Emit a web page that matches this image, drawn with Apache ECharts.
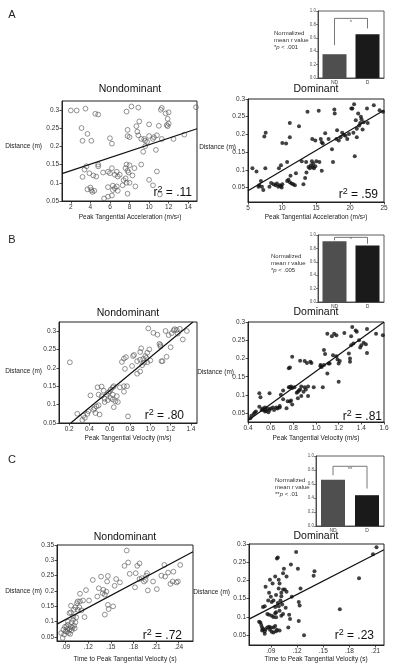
<!DOCTYPE html>
<html><head><meta charset="utf-8">
<script src="https://cdn.jsdelivr.net/npm/echarts@6/dist/echarts.min.js"></script>
<style>html,body{margin:0;padding:0;background:#fff}#c{width:400px;height:666px}</style>
</head><body><div id="c"></div>
<script>
// ---------- DATA ----------
const aNdPoints = [[2.0,0.298],[2.6,0.298],[3.5,0.303],[4.5,0.289],[4.8,0.287],
[3.1,0.25],[3.7,0.234],[3.2,0.215],[4.1,0.215],
[3.4,0.136],[3.6,0.145],[3.2,0.116],[3.9,0.126],[4.3,0.12],[4.6,0.117],[4.8,0.145],[4.8,0.15],
[3.7,0.082],[4.0,0.087],[4.2,0.075],[4.1,0.08],[4.4,0.078],
[5.3,0.128],[5.8,0.13],[6.2,0.14],[6.0,0.126],[6.5,0.122],[6.7,0.13],[7.0,0.122],[6.8,0.117],
[5.8,0.088],[6.3,0.092],[6.5,0.085],[6.7,0.09],[6.3,0.08],[6.8,0.078],[6.2,0.065],[5.8,0.062],[5.4,0.057],[7.8,0.07],
[6.0,0.222],[6.2,0.207],[7.7,0.295],[8.2,0.309],[8.9,0.306],[7.8,0.245],[7.8,0.228],[8.0,0.225],
[7.4,0.107],[7.6,0.112],[7.7,0.1],[7.3,0.093],[8.0,0.1],[8.6,0.09],[7.8,0.133],[8.3,0.12],[7.6,0.14],[7.7,0.15],[8.0,0.148],[8.5,0.14],[7.9,0.128],
[8.7,0.255],[8.8,0.24],[9.0,0.268],[8.9,0.23],[9.2,0.22],[9.5,0.22],[9.6,0.215],[9.6,0.2],[9.4,0.185],[9.2,0.15],
[10.0,0.26],[10.0,0.228],[9.8,0.212],[10.4,0.22],[10.5,0.225],[10.7,0.19],[10.8,0.23],[11.0,0.256],
[11.2,0.3],[11.3,0.305],[11.7,0.29],[11.9,0.275],[12.0,0.293],[12.0,0.262],[11.9,0.255],[11.8,0.258],
[11.3,0.22],[12.5,0.22],[13.6,0.232],[14.8,0.307],[10.0,0.108],[10.4,0.093],[10.8,0.131],[11.1,0.068]];

const aDPoints = [[5.65,0.104],[6.25,0.095],[6.9,0.068],[6.65,0.056],[7.05,0.052],[6.55,0.052],[7.25,0.043],[7.4,0.194],[7.6,0.205],[7.55,0.104],
[8.15,0.052],[8.4,0.063],[8.75,0.059],[9.05,0.056],[9.25,0.061],[9.45,0.052],[9.65,0.056],[9.85,0.054],[10.05,0.059],[9.95,0.05],
[9.55,0.104],[9.85,0.113],[10.05,0.176],[10.6,0.174],[10.75,0.122],[10.75,0.068],[10.95,0.072],[11.15,0.065],[11.25,0.083],[11.4,0.061],
[11.65,0.059],[11.9,0.056],[12.05,0.09],[11.15,0.232],[11.15,0.192],[12.5,0.223],[12.9,0.124],[13.15,0.059],[13.4,0.077],[13.6,0.092],
[13.55,0.122],[13.75,0.264],[13.9,0.108],[14.1,0.104],[14.25,0.113],[14.4,0.124],[14.5,0.108],[14.6,0.117],[14.7,0.104],[14.9,0.11],
[15.05,0.124],[14.45,0.187],[14.9,0.183],[15.4,0.267],[15.5,0.122],[15.7,0.187],[15.85,0.178],[15.85,0.097],[16.0,0.174],[16.35,0.203],
[16.85,0.187],[17.35,0.158],[17.5,0.122],[17.7,0.27],[17.75,0.259],[18.0,0.187],[18.1,0.212],[18.35,0.183],[18.6,0.192],[18.85,0.205],
[19.1,0.198],[19.35,0.196],[19.6,0.187],[19.85,0.201],[20.2,0.273],[20.35,0.273],[20.6,0.285],[20.7,0.138],[20.85,0.24],[21.0,0.216],
[21.0,0.192],[21.2,0.259],[21.35,0.225],[21.5,0.232],[21.6,0.25],[21.7,0.243],[21.85,0.214],[22.0,0.234],[22.5,0.273],[22.6,0.232],
[23.5,0.282],[24.35,0.268],[24.85,0.264],[20.5,0.205]];

const bNdPoints = [[0.207,0.215],[0.28,0.075],[0.34,0.07],[0.38,0.075],[0.355,0.064],[0.33,0.058],[0.39,0.082],[0.41,0.125],[0.44,0.086],[0.45,0.09],
[0.47,0.095],[0.49,0.098],[0.46,0.077],[0.5,0.073],[0.48,0.147],[0.52,0.149],[0.49,0.127],[0.52,0.123],[0.54,0.138],[0.55,0.107],
[0.55,0.116],[0.57,0.127],[0.585,0.132],[0.58,0.112],[0.6,0.136],[0.61,0.118],[0.61,0.141],[0.63,0.147],[0.63,0.127],[0.63,0.114],
[0.64,0.093],[0.655,0.109],[0.67,0.123],[0.68,0.107],[0.64,0.15],[0.7,0.147],[0.74,0.135],[0.74,0.15],[0.77,0.15],[0.78,0.068],
[0.72,0.216],[0.74,0.225],[0.76,0.229],[0.75,0.197],[0.82,0.205],[0.83,0.232],[0.84,0.235],[0.87,0.218],[0.87,0.184],[0.9,0.222],
[0.9,0.243],[0.91,0.253],[0.9,0.19],[0.92,0.207],[0.93,0.224],[0.94,0.214],[0.95,0.232],[0.96,0.227],[0.97,0.241],[0.99,0.25],
[0.98,0.307],[1.03,0.295],[1.07,0.29],[1.09,0.265],[1.1,0.262],[1.1,0.258],[1.11,0.218],[1.12,0.218],[1.15,0.3],[1.16,0.23],
[1.18,0.289],[1.2,0.256],[1.21,0.294],[1.23,0.302],[1.24,0.305],[1.26,0.303],[1.27,0.293],[1.29,0.306],[1.32,0.277],[1.36,0.3],
[1.0,0.22],[0.97,0.215]];

const bDPoints = [[0.42,0.036],[0.43,0.043],[0.45,0.048],[0.46,0.052],[0.47,0.055],[0.5,0.105],[0.51,0.094],[0.5,0.068],[0.52,0.059],[0.53,0.063],
[0.54,0.059],[0.55,0.055],[0.56,0.057],[0.57,0.063],[0.58,0.053],[0.59,0.059],[0.59,0.105],[0.55,0.066],[0.6,0.063],[0.62,0.066],
[0.63,0.059],[0.65,0.066],[0.66,0.063],[0.68,0.066],[0.68,0.07],[0.69,0.101],[0.71,0.112],[0.71,0.088],[0.74,0.064],[0.75,0.083],
[0.77,0.082],[0.78,0.085],[0.79,0.074],[0.76,0.121],[0.77,0.121],[0.79,0.119],[0.78,0.123],[0.76,0.173],[0.77,0.175],[0.79,0.205],
[0.81,0.121],[0.83,0.106],[0.84,0.109],[0.85,0.112],[0.86,0.115],[0.84,0.091],[0.87,0.097],[0.87,0.123],[0.89,0.109],[0.9,0.121],
[0.91,0.115],[0.93,0.097],[0.93,0.123],[0.86,0.194],[0.9,0.193],[0.92,0.188],[0.95,0.191],[0.96,0.188],[0.98,0.121],[1.04,0.179],
[1.04,0.182],[1.05,0.177],[1.06,0.121],[1.07,0.182],[1.07,0.223],[1.08,0.212],[1.1,0.159],[1.1,0.268],[1.11,0.186],[1.12,0.186],
[1.14,0.261],[1.15,0.209],[1.16,0.268],[1.18,0.264],[1.18,0.206],[1.19,0.197],[1.2,0.186],[1.2,0.136],[1.21,0.193],[1.25,0.27],
[1.29,0.214],[1.3,0.2],[1.3,0.191],[1.31,0.236],[1.31,0.261],[1.32,0.286],[1.33,0.241],[1.35,0.277],[1.36,0.273],[1.38,0.25],
[1.39,0.23],[1.4,0.236],[1.42,0.243],[1.44,0.239],[1.45,0.215],[1.45,0.281],[1.53,0.268],[1.59,0.264]];

const cNdPoints = [[0.086,0.047],[0.084,0.063],[0.087,0.074],[0.089,0.083],[0.09,0.068],[0.091,0.085],[0.092,0.076],[0.093,0.09],[0.094,0.063],[0.095,0.074],
[0.097,0.083],[0.098,0.098],[0.098,0.072],[0.1,0.106],[0.101,0.087],[0.102,0.078],[0.103,0.098],[0.104,0.114],[0.095,0.128],[0.097,0.13],
[0.097,0.152],[0.1,0.117],[0.101,0.139],[0.103,0.147],[0.105,0.16],[0.106,0.166],[0.109,0.166],[0.108,0.147],[0.106,0.139],[0.111,0.137],
[0.113,0.169],[0.109,0.191],[0.115,0.115],[0.117,0.203],[0.121,0.169],[0.126,0.236],[0.132,0.182],[0.134,0.209],[0.137,0.247],[0.139,0.193],
[0.14,0.204],[0.142,0.188],[0.144,0.198],[0.145,0.231],[0.146,0.249],[0.146,0.155],[0.147,0.141],[0.153,0.15],[0.142,0.123],[0.155,0.217],
[0.157,0.239],[0.162,0.228],[0.168,0.282],[0.171,0.332],[0.173,0.293],[0.175,0.256],[0.183,0.258],[0.182,0.212],[0.185,0.282],[0.188,0.29],
[0.188,0.239],[0.191,0.242],[0.194,0.231],[0.196,0.236],[0.198,0.258],[0.199,0.202],[0.197,0.25],[0.206,0.231],[0.211,0.206],[0.217,0.25],
[0.221,0.285],[0.222,0.247],[0.226,0.26],[0.229,0.223],[0.232,0.231],[0.233,0.263],[0.237,0.228],[0.239,0.231],[0.242,0.285],
[0.088,0.058],[0.092,0.067],[0.096,0.06],[0.099,0.08],[0.093,0.1]];

const cDPoints = [[0.0766,0.087],[0.078,0.085],[0.079,0.078],[0.08,0.071],[0.081,0.066],[0.08,0.063],[0.083,0.061],[0.083,0.054],[0.084,0.066],[0.086,0.071],
[0.088,0.073],[0.089,0.065],[0.09,0.071],[0.091,0.059],[0.093,0.071],[0.095,0.075],[0.096,0.061],[0.097,0.065],[0.1,0.063],[0.093,0.057],
[0.081,0.127],[0.083,0.129],[0.084,0.183],[0.087,0.145],[0.088,0.166],[0.089,0.202],[0.09,0.155],[0.091,0.141],[0.092,0.192],[0.093,0.145],
[0.095,0.211],[0.095,0.127],[0.096,0.113],[0.097,0.26],[0.098,0.263],[0.099,0.202],[0.099,0.178],[0.1,0.192],[0.101,0.145],[0.102,0.166],
[0.103,0.134],[0.104,0.22],[0.105,0.232],[0.106,0.175],[0.086,0.108],[0.088,0.106],[0.091,0.103],[0.093,0.1],[0.095,0.11],[0.096,0.099],
[0.098,0.138],[0.099,0.129],[0.1,0.117],[0.102,0.103],[0.104,0.108],[0.107,0.125],[0.108,0.169],[0.108,0.211],[0.11,0.071],[0.111,0.106],
[0.112,0.094],[0.113,0.244],[0.114,0.155],[0.096,0.16],[0.102,0.157],[0.104,0.175],[0.119,0.278],[0.121,0.232],[0.122,0.089],[0.122,0.141],
[0.123,0.131],[0.124,0.178],[0.128,0.05],[0.139,0.213],[0.14,0.225],[0.169,0.121],[0.191,0.206],[0.207,0.272],[0.211,0.291]];

// regression line end points [x, y]
const aNdFit = [[1.1,0.125],[14.9,0.248]];
const aDFit = [[5,0.041],[25,0.268]];
const bNdFit = [[0.216,0.05],[1.42,0.3245]];
const bDFit = [[0.4,0.03],[1.6,0.3]];
const cNdFit = [[0.0785,0.092],[0.259,0.328]];
const cDFit = [[0.065,0.094],[0.2196,0.284]];

const rSquared = ['.11', '.59', '.80', '.81', '.72', '.23'];

// tick labels
const aNdXTicks = [2,4,6,8,10,12,14];
const aDXTicks = [5,10,15,20,25];
const bNdXTicks = [0.2,0.4,0.6,0.8,1.0,1.2,1.4];
const bDXTicks = [0.4,0.6,0.8,1.0,1.2,1.4,1.6];
const cNdXTicks = [0.09,0.12,0.15,0.18,0.21,0.24];
const cDXTicks = [0.09,0.12,0.15,0.18,0.21];
const yTicks30 = [0.05,0.1,0.15,0.2,0.25,0.3];
const yTicks35 = [0.05,0.1,0.15,0.2,0.25,0.3,0.35];

// bar charts: normalized mean r value [ND, D]
const barCategories = ['ND', 'D'];
const aBars = [0.355, 0.653];
const bBars = [0.905, 0.845];
const cBars = [0.66, 0.44];
// significance bracket: [ND end, top, D end]
const aBracket = [0.49, 0.89, 0.74];
const bBracket = [0.92, 0.965, 0.87];
const cBracket = [0.725, 0.853, 0.535];
const sigMarks = ['*', '*', '**'];
const pTexts = ['*p < .001', '*p < .005', '**p < .01'];

// ---------- CHART ----------
const F = '"Liberation Sans", Arial, sans-serif';
const chart = echarts.init(document.getElementById('c'), null, {renderer: 'canvas'});
const option = {animation: false, grid: [], xAxis: [], yAxis: [], series: [], graphic: []};

const fmt1 = v => String(Math.round(v * 100) / 100);
const fmtB = v => v.toFixed(1);
const fmtC = v => v.toFixed(2).replace(/^0/, '');

const panels = [
  {g:{left:62,top:101,width:135,height:100}, x:[1.1,14.9], y:[0.05,0.324], xt:aNdXTicks, yt:yTicks30, xf:fmt1, pts:aNdPoints, fit:aNdFit, open:true},
  {g:{left:248,top:99,width:136,height:103}, x:[5,25], y:[0.009,0.3], xt:aDXTicks, yt:yTicks30, xf:fmt1, pts:aDPoints, fit:aDFit, open:false},
  {g:{left:59,top:322,width:138,height:101}, x:[0.1,1.46], y:[0.05,0.3245], xt:bNdXTicks, yt:yTicks30, xf:fmtB, pts:bNdPoints, fit:bNdFit, open:true},
  {g:{left:248,top:322,width:136,height:100}, x:[0.4,1.6], y:[0.026,0.3], xt:bDXTicks, yt:yTicks30, xf:fmtB, pts:bDPoints, fit:bDFit, open:false},
  {g:{left:57,top:545,width:136,height:96}, x:[0.0785,0.259], y:[0.037,0.35], xt:cNdXTicks, yt:yTicks35, xf:fmtC, pts:cNdPoints, fit:cNdFit, open:true},
  {g:{left:249,top:544,width:135,height:101}, x:[0.065,0.2196], y:[0.023,0.3], xt:cDXTicks, yt:yTicks30, xf:fmtC, pts:cDPoints, fit:cDFit, open:false}
];

const axisCommon = (ticks, fmt) => ({
  axisLine: {show: true, onZero: false, lineStyle: {color: '#222', width: 1}},
  axisTick: {show: true, length: 2.5, customValues: ticks, lineStyle: {color: '#222', width: 0.8}},
  axisLabel: {customValues: ticks, fontSize: 6.5, color: '#333', margin: 3, fontFamily: F, formatter: fmt},
  splitLine: {show: false}
});

panels.forEach((p, i) => {
  option.grid.push(Object.assign({show: true, borderColor: '#222', borderWidth: 1, backgroundColor: 'transparent', containLabel: false}, p.g));
  option.xAxis.push(Object.assign({gridIndex: i, type: 'value', min: p.x[0], max: p.x[1]}, axisCommon(p.xt, p.xf)));
  option.yAxis.push(Object.assign({gridIndex: i, type: 'value', min: p.y[0], max: p.y[1]}, axisCommon(p.yt, fmt1)));
  option.series.push({
    type: 'line', xAxisIndex: i, yAxisIndex: i, data: p.fit, symbol: 'none', silent: true,
    lineStyle: {color: '#111', width: 1.2}, z: 3
  });
  option.series.push({
    type: 'scatter', xAxisIndex: i, yAxisIndex: i, data: p.pts, silent: true,
    symbol: 'circle', symbolSize: p.open ? 4.8 : 4,
    itemStyle: p.open ? {color: 'rgba(255,255,255,0)', borderColor: '#555', borderWidth: 0.8}
                      : {color: '#111', borderWidth: 0}, z: 2
  });
});

const bars = [
  {g:{left:318,top:11,width:66,height:67}, v:aBars, br:aBracket, m:sigMarks[0], mOff:-0.06},
  {g:{left:318,top:235,width:66,height:67}, v:bBars, br:bBracket, m:sigMarks[1], mOff:-0.03},
  {g:{left:316,top:456,width:68,height:70}, v:cBars, br:cBracket, m:sigMarks[2], mOff:-0.05}
];
bars.forEach((b, k) => {
  const gi = 6 + k;
  option.grid.push(Object.assign({show: true, borderColor: '#333', borderWidth: 0.8, backgroundColor: 'transparent'}, b.g));
  const xi = option.xAxis.length;
  option.xAxis.push({gridIndex: gi, type: 'category', data: barCategories,
    axisLine: {show: true, lineStyle: {color: '#333', width: 0.8}},
    axisTick: {show: false},
    axisLabel: {fontSize: 5, color: '#444', margin: 2, fontFamily: F}});
  option.xAxis.push({gridIndex: gi, type: 'value', min: 0, max: 2, show: false});
  const yi = option.yAxis.length;
  option.yAxis.push({gridIndex: gi, type: 'value', min: 0, max: 1, interval: 0.2,
    axisLine: {show: true, lineStyle: {color: '#333', width: 0.8}},
    axisTick: {show: true, length: 2, lineStyle: {color: '#333', width: 0.6}},
    axisLabel: {fontSize: 4.5, color: '#555', margin: 2, fontFamily: F, formatter: fmtB},
    splitLine: {show: false}});
  option.series.push({type: 'bar', xAxisIndex: xi, yAxisIndex: yi, barWidth: 24, silent: true,
    data: [{value: b.v[0], itemStyle: {color: '#4f4f4f'}}, {value: b.v[1], itemStyle: {color: '#1a1a1a'}}]});
  option.series.push({type: 'line', xAxisIndex: xi + 1, yAxisIndex: yi, symbol: 'none', silent: true,
    lineStyle: {color: '#555', width: 0.8},
    data: [[0.5, b.br[0]], [0.5, b.br[1]], [1.5, b.br[1]], [1.5, b.br[2]]]});
  option.series.push({type: 'scatter', xAxisIndex: xi + 1, yAxisIndex: yi, symbolSize: 0, silent: true,
    data: [[1, b.br[1] + b.mOff]],
    label: {show: true, formatter: b.m, fontSize: 6, color: '#333', position: 'inside', fontFamily: F}});
});

// ---------- TEXT ----------
const T = (x, y, text, size, align, extra) => ({type: 'text', x, y, silent: true,
  style: Object.assign({text, fontSize: size, fontFamily: F, fill: '#222', align: align || 'center', verticalAlign: 'middle'}, extra || {})});
const G = option.graphic;
G.push(T(12, 15, 'A', 11), T(12, 240, 'B', 11), T(12, 460, 'C', 11));
[[130, 89, 'Nondominant'], [316, 89, 'Dominant'], [128, 313, 'Nondominant'], [316, 312, 'Dominant'], [125, 537, 'Nondominant'], [316, 536, 'Dominant']]
  .forEach(t => G.push(T(t[0], t[1], t[2], 10.5, 'center', {fill: '#111'})));
[[42, 146], [236, 147], [42, 371], [234, 372], [42, 591], [230, 592]]
  .forEach(t => G.push(T(t[0], t[1], 'Distance (m)', 6.5, 'right')));
const xNames = ['Peak Tangential Acceleration (m/s²)', 'Peak Tangential Velocity (m/s)', 'Time to Peak Tangential Velocity (s)'];
[[130, 217, 0], [316, 217, 0], [128, 438, 1], [316, 438, 1], [125, 659, 2], [316, 659, 2]]
  .forEach(t => G.push(T(t[0], t[1], xNames[t[2]], 6.5, 'center')));
// r squared with raised 2
[[192, 193], [378, 195], [184, 416], [382, 417], [182, 636], [374, 636]].forEach((t, i) => {
  G.push({type: 'text', x: t[0], y: t[1], silent: true, style: {
    text: '{r|r}{s|2}{t| = ' + rSquared[i] + '}', align: 'right', verticalAlign: 'middle', fill: '#111',
    rich: {r: {fontSize: 12, fontFamily: F, fill: '#111'},
           s: {fontSize: 9, fontFamily: F, fill: '#111', padding: [0, 0, 7, 0]},
           t: {fontSize: 12, fontFamily: F, fill: '#111'}}}});
});
// bar annotations
[[274, 40], [271, 263], [275, 487]].forEach((t, i) => {
  const stars = pTexts[i].match(/^\*+/)[0];
  const rest = pTexts[i].slice(stars.length + 1);
  G.push({type: 'text', x: t[0], y: t[1], silent: true, style: {
    text: '{n|Normalized}\n{n|mean }{i|r}{n| value}\n{n|' + stars + '}{i|p}{n|' + rest + '}',
    align: 'left', verticalAlign: 'middle', fill: '#333',
    rich: {n: {fontSize: 6, fontFamily: F, lineHeight: 7, fill: '#333'}, i: {fontSize: 6, fontFamily: F, fontStyle: 'italic', lineHeight: 7, fill: '#333'}}}});
});

chart.setOption(option);
</script></body></html>
